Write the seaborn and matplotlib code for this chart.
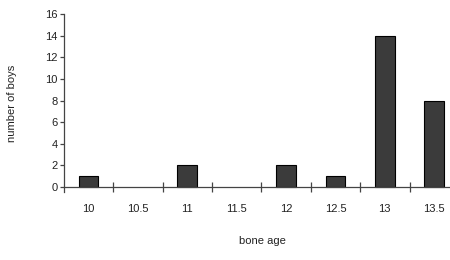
import numpy as np
import pandas as pd
import matplotlib
matplotlib.use('Agg')
import matplotlib.pyplot as plt
import seaborn as sns

# bone age categories and counts
ages = ['10', '10.5', '11', '11.5', '12', '12.5', '13', '13.5']
bar_ages = ['10', '11', '12', '12.5', '13', '13.5']
boys = [1, 2, 2, 1, 14, 8]
y_ticks = [0, 2, 4, 6, 8, 10, 12, 14, 16]

sns.set_style('white')
plt.rcParams['font.family'] = ['Liberation Sans', 'DejaVu Sans']

df = pd.DataFrame({'age': bar_ages, 'boys': boys})

fig = plt.figure(figsize=(4.5, 2.6), dpi=100)
ax = fig.add_axes([0.142, 0.262, 0.858, 0.684])

sns.barplot(data=df, x='age', y='boys', order=ages, color='#3b3b3b',
            width=0.4, edgecolor='black', linewidth=0.8, saturation=1, ax=ax)

ax.set_ylim(-0.45, 16)
ax.set_xlim(-0.5, 7.32)
ax.set_yticks(y_ticks)

for s in ['top', 'right']:
    ax.spines[s].set_visible(False)
ax.spines['bottom'].set_position(('data', 0))
for s in ['left', 'bottom']:
    ax.spines[s].set_color('#444444')
    ax.spines[s].set_linewidth(0.9)

# boundary ticks between the categories
ax.set_xticks(np.arange(0.5, 7, 1), minor=True)
ax.tick_params(axis='x', which='major', bottom=True, length=0, pad=12,
               labelsize=8, labelcolor='#222222')
ax.tick_params(axis='x', which='minor', bottom=True, direction='inout',
               length=7, width=0.9, color='#444444')
ax.tick_params(axis='y', direction='out', length=3, width=0.9, pad=1.5, labelsize=8,
               left=True, color='#444444', labelcolor='#222222')

ax.set_xlabel('bone age', fontsize=8, color='#222222')
ax.set_ylabel('number of boys', fontsize=8, color='#222222', labelpad=20)
ax.xaxis.set_label_coords(0.515, -0.25)

fig.savefig('out.png', dpi=100)
